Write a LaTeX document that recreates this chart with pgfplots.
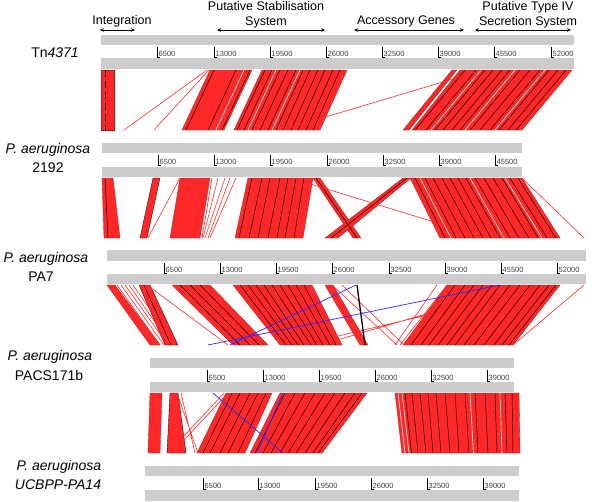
\documentclass[border=0pt]{standalone}
\usepackage{pgfplots}
\pgfplotsset{compat=1.18}
\usepackage{fontspec}
\setmainfont{Liberation Sans}
\usetikzlibrary{arrows.meta}
\definecolor{barg}{RGB}{204,204,204}
\definecolor{rd}{RGB}{255,40,40}
\definecolor{bl}{RGB}{40,40,255}
\pgfplotsset{
  blk/.style={fill=rd, draw=rd!65!black, line width=0.3pt},
  bar/.style={fill=barg, draw=none},
  bln/.style={black, line width=0.45pt, unbounded coords=jump},
  wln/.style={white, line width=0.6pt, unbounded coords=jump},
  rln/.style={rd, line width=0.6pt, unbounded coords=jump},
  tck/.style={black, line width=0.5pt, unbounded coords=jump},
}
\newcommand{\tl}[2]{\node[anchor=base west, inner sep=0pt, text=black!75, font=\fontsize{7.5}{8}\selectfont] at (#1+1.5,#2) {#1};}
\begin{document}
\begin{tikzpicture}
\begin{axis}[scale only axis, width=600pt, height=501pt,
  xmin=0, xmax=600, ymin=0, ymax=501, y dir=reverse,
  axis line style={draw=none}, xtick=\empty, ytick=\empty, clip=false]

% ---------------- gray genome bars ----------------
\addplot[bar] coordinates {(101,35)(574,35)(574,45)(101,45)} -- cycle;
\addplot[bar] coordinates {(101,58)(574,58)(574,69)(101,69)} -- cycle;
\addplot[bar] coordinates {(102,143)(522,143)(522,153)(102,153)} -- cycle;
\addplot[bar] coordinates {(102,167)(522,167)(522,177)(102,177)} -- cycle;
\addplot[bar] coordinates {(107,250)(586,250)(586,261)(107,261)} -- cycle;
\addplot[bar] coordinates {(107,274)(586,274)(586,284)(107,284)} -- cycle;
\addplot[bar] coordinates {(150,358)(514,358)(514,368)(150,368)} -- cycle;
\addplot[bar] coordinates {(150,382)(514,382)(514,392)(150,392)} -- cycle;
\addplot[bar] coordinates {(145,466)(519,466)(519,476)(145,476)} -- cycle;
\addplot[bar] coordinates {(145,490)(519,490)(519,501)(145,501)} -- cycle;

% ---------------- ticks ----------------
\addplot[tck] coordinates {(157,47)(157,57)(160,57)(0,nan)(214,47)(214,57)(217,57)(0,nan)(270,47)(270,57)(273,57)(0,nan)(326,47)(326,57)(329,57)(0,nan)(382,47)(382,57)(385,57)(0,nan)(438,47)(438,57)(441,57)(0,nan)(494,47)(494,57)(497,57)(0,nan)(551,47)(551,57)(554,57)};
\addplot[tck] coordinates {(158,155)(158,165)(161,165)(0,nan)(214,155)(214,165)(217,165)(0,nan)(270,155)(270,165)(273,165)(0,nan)(327,155)(327,165)(330,165)(0,nan)(383,155)(383,165)(386,165)(0,nan)(439,155)(439,165)(442,165)(0,nan)(495,155)(495,165)(498,165)};
\addplot[tck] coordinates {(164,263)(164,273)(167,273)(0,nan)(220,263)(220,273)(223,273)(0,nan)(276,263)(276,273)(279,273)(0,nan)(332,263)(332,273)(335,273)(0,nan)(389,263)(389,273)(392,273)(0,nan)(445,263)(445,273)(448,273)(0,nan)(501,263)(501,273)(504,273)(0,nan)(557,263)(557,273)(560,273)};
\addplot[tck] coordinates {(207,370)(207,381)(210,381)(0,nan)(263,370)(263,381)(266,381)(0,nan)(319,370)(319,381)(322,381)(0,nan)(375,370)(375,381)(378,381)(0,nan)(431,370)(431,381)(434,381)(0,nan)(487,370)(487,381)(490,381)};
\addplot[tck] coordinates {(203,478)(203,489)(206,489)(0,nan)(258,478)(258,489)(261,489)(0,nan)(315,478)(315,489)(318,489)(0,nan)(371,478)(371,489)(374,489)(0,nan)(427,478)(427,489)(430,489)(0,nan)(483,478)(483,489)(486,489)};

% tick labels
\node[anchor=base west, inner sep=0pt, text=black!75, font=\fontsize{7.5}{8}\selectfont] at (158.5,56.5) {6500};
\node[anchor=base west, inner sep=0pt, text=black!75, font=\fontsize{7.5}{8}\selectfont] at (215.5,56.5) {13000};
\node[anchor=base west, inner sep=0pt, text=black!75, font=\fontsize{7.5}{8}\selectfont] at (271.5,56.5) {19500};
\node[anchor=base west, inner sep=0pt, text=black!75, font=\fontsize{7.5}{8}\selectfont] at (327.5,56.5) {26000};
\node[anchor=base west, inner sep=0pt, text=black!75, font=\fontsize{7.5}{8}\selectfont] at (383.5,56.5) {32500};
\node[anchor=base west, inner sep=0pt, text=black!75, font=\fontsize{7.5}{8}\selectfont] at (439.5,56.5) {39000};
\node[anchor=base west, inner sep=0pt, text=black!75, font=\fontsize{7.5}{8}\selectfont] at (495.5,56.5) {45500};
\node[anchor=base west, inner sep=0pt, text=black!75, font=\fontsize{7.5}{8}\selectfont] at (552.5,56.5) {52000};

\node[anchor=base west, inner sep=0pt, text=black!75, font=\fontsize{7.5}{8}\selectfont] at (159.5,164.5) {6500};
\node[anchor=base west, inner sep=0pt, text=black!75, font=\fontsize{7.5}{8}\selectfont] at (215.5,164.5) {13000};
\node[anchor=base west, inner sep=0pt, text=black!75, font=\fontsize{7.5}{8}\selectfont] at (271.5,164.5) {19500};
\node[anchor=base west, inner sep=0pt, text=black!75, font=\fontsize{7.5}{8}\selectfont] at (328.5,164.5) {26000};
\node[anchor=base west, inner sep=0pt, text=black!75, font=\fontsize{7.5}{8}\selectfont] at (384.5,164.5) {32500};
\node[anchor=base west, inner sep=0pt, text=black!75, font=\fontsize{7.5}{8}\selectfont] at (440.5,164.5) {39000};
\node[anchor=base west, inner sep=0pt, text=black!75, font=\fontsize{7.5}{8}\selectfont] at (496.5,164.5) {45500};

\node[anchor=base west, inner sep=0pt, text=black!75, font=\fontsize{7.5}{8}\selectfont] at (165.5,272.5) {6500};
\node[anchor=base west, inner sep=0pt, text=black!75, font=\fontsize{7.5}{8}\selectfont] at (221.5,272.5) {13000};
\node[anchor=base west, inner sep=0pt, text=black!75, font=\fontsize{7.5}{8}\selectfont] at (277.5,272.5) {19500};
\node[anchor=base west, inner sep=0pt, text=black!75, font=\fontsize{7.5}{8}\selectfont] at (333.5,272.5) {26000};
\node[anchor=base west, inner sep=0pt, text=black!75, font=\fontsize{7.5}{8}\selectfont] at (390.5,272.5) {32500};
\node[anchor=base west, inner sep=0pt, text=black!75, font=\fontsize{7.5}{8}\selectfont] at (446.5,272.5) {39000};
\node[anchor=base west, inner sep=0pt, text=black!75, font=\fontsize{7.5}{8}\selectfont] at (502.5,272.5) {45500};
\node[anchor=base west, inner sep=0pt, text=black!75, font=\fontsize{7.5}{8}\selectfont] at (558.5,272.5) {52000};

\node[anchor=base west, inner sep=0pt, text=black!75, font=\fontsize{7.5}{8}\selectfont] at (208.5,380.5) {6500};
\node[anchor=base west, inner sep=0pt, text=black!75, font=\fontsize{7.5}{8}\selectfont] at (264.5,380.5) {13000};
\node[anchor=base west, inner sep=0pt, text=black!75, font=\fontsize{7.5}{8}\selectfont] at (320.5,380.5) {19500};
\node[anchor=base west, inner sep=0pt, text=black!75, font=\fontsize{7.5}{8}\selectfont] at (376.5,380.5) {26000};
\node[anchor=base west, inner sep=0pt, text=black!75, font=\fontsize{7.5}{8}\selectfont] at (432.5,380.5) {32500};
\node[anchor=base west, inner sep=0pt, text=black!75, font=\fontsize{7.5}{8}\selectfont] at (488.5,380.5) {39000};

\node[anchor=base west, inner sep=0pt, text=black!75, font=\fontsize{7.5}{8}\selectfont] at (204.5,488.5) {6500};
\node[anchor=base west, inner sep=0pt, text=black!75, font=\fontsize{7.5}{8}\selectfont] at (259.5,488.5) {13000};
\node[anchor=base west, inner sep=0pt, text=black!75, font=\fontsize{7.5}{8}\selectfont] at (316.5,488.5) {19500};
\node[anchor=base west, inner sep=0pt, text=black!75, font=\fontsize{7.5}{8}\selectfont] at (372.5,488.5) {26000};
\node[anchor=base west, inner sep=0pt, text=black!75, font=\fontsize{7.5}{8}\selectfont] at (428.5,488.5) {32500};
\node[anchor=base west, inner sep=0pt, text=black!75, font=\fontsize{7.5}{8}\selectfont] at (484.5,488.5) {39000};

% ---------------- region 1 (Tn4371 -> 2192) ----------------
\addplot[blk] coordinates {(101,70)(114,70)(114,130)(101,130)} -- cycle;
\addplot[blk] coordinates {(210,70)(252,70)(224,130)(182,130)} -- cycle;
\addplot[blk] coordinates {(262,70)(347,70)(320,130)(234,130)} -- cycle;
\addplot[blk] coordinates {(452,70)(457,70)(409,130)(403,130)} -- cycle;
\addplot[blk] coordinates {(460,70)(572,70)(522,130)(412,130)} -- cycle;
\addplot[black, line width=0.8pt, dash pattern=on 7pt off 4pt] coordinates {(105,70)(105,130)};
\addplot[bln] coordinates {(214,70)(186,130)(0,nan)(236,70)(208,130)(0,nan)(250,70)(222,130)(0,nan)(265,70)(237,130)(0,nan)(272,70)(244,130)(0,nan)(280,70)(252,130)(0,nan)(288,70)(260,130)(0,nan)(296,70)(268,130)(0,nan)(303,70)(276,130)(0,nan)(310,70)(283,130)(0,nan)(318,70)(291,130)(0,nan)(325,70)(298,130)(0,nan)(333,70)(306,130)(0,nan)(340,70)(313,130)};
\addplot[bln] coordinates {(465,70)(415,130)(0,nan)(476,70)(426,130)(0,nan)(485,70)(435,130)(0,nan)(493,70)(443,130)(0,nan)(502,70)(452,130)(0,nan)(510,70)(460,130)(0,nan)(520,70)(470,130)(0,nan)(530,70)(480,130)(0,nan)(540,70)(490,130)(0,nan)(549,70)(499,130)(0,nan)(558,70)(508,130)(0,nan)(566,70)(516,130)};
\addplot[wln] coordinates {(244,70)(216,130)(0,nan)(276,70)(248,130)(0,nan)(300,70)(272,130)(0,nan)(481,70)(431,130)(0,nan)(515,70)(465,130)(0,nan)(545,70)(495,130)};
\addplot[rln] coordinates {(207,70)(124,130)(0,nan)(209,70)(154,130)(0,nan)(483,70)(282,130)};

% ---------------- region 2 (2192 -> PA7) ----------------
\addplot[blk] coordinates {(102,178)(113,178)(120,238)(104,238)} -- cycle;
\addplot[blk, draw=black] coordinates {(153,178)(160,178)(147,238)(140,238)} -- cycle;
\addplot[blk] coordinates {(180,178)(210,178)(200,238)(170,238)} -- cycle;
\addplot[blk] coordinates {(248,178)(313,178)(303,238)(235,238)} -- cycle;
\addplot[blk] coordinates {(313,178)(320,178)(361,238)(353,238)} -- cycle;
\addplot[blk] coordinates {(403,178)(411,178)(338,238)(325,238)} -- cycle;
\addplot[blk] coordinates {(410,178)(522,178)(560,238)(440,238)} -- cycle;
\addplot[bln] coordinates {(105,178)(108,238)(0,nan)(252,178)(239,238)(0,nan)(262,178)(249,238)(0,nan)(270,178)(258,238)(0,nan)(280,178)(268,238)(0,nan)(288,178)(277,238)(0,nan)(296,178)(285,238)(0,nan)(304,178)(294,238)(0,nan)(316,178)(357,238)(0,nan)(407,178)(331,238)};
\addplot[bln] coordinates {(415,178)(445,238)(0,nan)(425,178)(456,238)(0,nan)(433,178)(465,238)(0,nan)(442,178)(474,238)(0,nan)(450,178)(483,238)(0,nan)(458,178)(491,238)(0,nan)(466,178)(500,238)(0,nan)(475,178)(510,238)(0,nan)(484,178)(519,238)(0,nan)(493,178)(529,238)(0,nan)(502,178)(538,238)(0,nan)(510,178)(547,238)(0,nan)(518,178)(556,238)};
\addplot[wln] coordinates {(420,178)(451,238)(0,nan)(470,178)(504,238)(0,nan)(505,178)(542,238)};
\addplot[rln] coordinates {(180,178)(148,238)(0,nan)(212,178)(202,238)(0,nan)(218,178)(203,238)(0,nan)(225,178)(205,238)(0,nan)(230,178)(208,238)(0,nan)(236,178)(210,238)(0,nan)(291,178)(486,238)(0,nan)(522,178)(584,238)};

% ---------------- region 3 (PA7 -> PACS171b) ----------------
\addplot[blk] coordinates {(107,285)(115,285)(160,345)(150,345)} -- cycle;
\addplot[blk, draw=black] coordinates {(139,285)(150,285)(178,345)(165,345)} -- cycle;
\addplot[blk] coordinates {(172,285)(210,285)(268,345)(233,345)} -- cycle;
\addplot[blk] coordinates {(233,285)(312,285)(342,345)(280,345)} -- cycle;
\addplot[blk] coordinates {(325,285)(333,285)(368,345)(360,345)} -- cycle;
\addplot[blk] coordinates {(447,285)(560,285)(513,345)(403,345)} -- cycle;
\addplot[rln] coordinates {(117,285)(160,345)(0,nan)(121,285)(164,345)(0,nan)(125,285)(168,345)(0,nan)(129,285)(171,345)(0,nan)(133,285)(175,345)(0,nan)(147,285)(228,345)(0,nan)(437,285)(395,345)(0,nan)(447,285)(400,345)(0,nan)(332,285)(397,345)(0,nan)(342,285)(404,345)(0,nan)(555,285)(300,345)(0,nan)(525,285)(320,345)(0,nan)(584,285)(513,345)};
\addplot[bln] coordinates {(144,285)(171,345)(0,nan)(180,285)(240,345)(0,nan)(190,285)(250,345)(0,nan)(200,285)(259,345)(0,nan)(240,285)(286,345)(0,nan)(248,285)(292,345)(0,nan)(256,285)(298,345)(0,nan)(264,285)(304,345)(0,nan)(272,285)(311,345)(0,nan)(280,285)(317,345)(0,nan)(288,285)(323,345)(0,nan)(296,285)(330,345)(0,nan)(304,285)(336,345)};
\addplot[bln] coordinates {(455,285)(411,345)(0,nan)(465,285)(421,345)(0,nan)(474,285)(429,345)(0,nan)(483,285)(438,345)(0,nan)(492,285)(447,345)(0,nan)(500,285)(455,345)(0,nan)(510,285)(464,345)(0,nan)(520,285)(474,345)(0,nan)(530,285)(484,345)(0,nan)(540,285)(494,345)(0,nan)(549,285)(502,345)(0,nan)(556,285)(509,345)};
\addplot[black, line width=1.3pt] coordinates {(357,285)(365,345)};
\addplot[bl, line width=0.7pt, unbounded coords=jump] coordinates {(356,285)(230,345)(0,nan)(500,285)(208,345)};

% ---------------- region 4 (PACS171b -> PA14) ----------------
\addplot[blk] coordinates {(150,393)(162,393)(160,453)(148,453)} -- cycle;
\addplot[blk, draw=black] coordinates {(170,393)(178,393)(186,453)(167,453)} -- cycle;
\addplot[blk] coordinates {(226,393)(272,393)(245,453)(197,453)} -- cycle;
\addplot[blk] coordinates {(280,393)(367,393)(322,453)(250,453)} -- cycle;
\addplot[blk] coordinates {(395,393)(519,393)(520,453)(402,453)} -- cycle;
\addplot[bln] coordinates {(232,393)(203,453)(0,nan)(240,393)(210,453)(0,nan)(250,393)(220,453)(0,nan)(258,393)(228,453)(0,nan)(266,393)(238,453)(0,nan)(285,393)(255,453)(0,nan)(295,393)(263,453)(0,nan)(305,393)(271,453)(0,nan)(315,393)(280,453)(0,nan)(325,393)(288,453)(0,nan)(335,393)(296,453)(0,nan)(345,393)(305,453)(0,nan)(355,393)(313,453)(0,nan)(362,393)(318,453)};
\addplot[bln] coordinates {(405,393)(411.5,453)(0,nan)(412,393)(418,453)(0,nan)(420,393)(426,453)(0,nan)(428,393)(433,453)(0,nan)(436,393)(441,453)(0,nan)(445,393)(450,453)(0,nan)(455,393)(459,453)(0,nan)(465,393)(469,453)(0,nan)(475,393)(478,453)(0,nan)(485,393)(488,453)(0,nan)(495,393)(497,453)(0,nan)(505,393)(507,453)(0,nan)(512,393)(513,453)};
\addplot[wln] coordinates {(398,393)(405,453)(0,nan)(402,393)(409,453)(0,nan)(470,393)(473.5,453)(0,nan)(500,393)(502,453)(0,nan)(275,393)(247,453)};
\addplot[rln] coordinates {(177,393)(198,453)(0,nan)(181,393)(195,453)(0,nan)(228,393)(172,453)(0,nan)(224,393)(168,453)};
\addplot[bl, line width=0.7pt, unbounded coords=jump] coordinates {(213,393)(283,453)(0,nan)(283,393)(257,453)};

% ---------------- section arrows ----------------
\addplot[black, line width=0.6pt, {Stealth[length=4pt,width=3.5pt]}-{Stealth[length=4pt,width=3.5pt]}] coordinates {(100,30)(135,30)};
\addplot[black, line width=0.6pt, {Stealth[length=4pt,width=3.5pt]}-{Stealth[length=4pt,width=3.5pt]}] coordinates {(217,30)(325,30)};
\addplot[black, line width=0.6pt, {Stealth[length=4pt,width=3.5pt]}-{Stealth[length=4pt,width=3.5pt]}] coordinates {(354,30)(464,30)};
\addplot[black, line width=0.6pt, {Stealth[length=4pt,width=3.5pt]}-{Stealth[length=4pt,width=3.5pt]}] coordinates {(475,30)(571,30)};

% ---------------- header texts ----------------
\node[font=\fontsize{12.5}{15.5}\selectfont, inner sep=0pt] at (122,21) {Integration};
\node[font=\fontsize{12.5}{15.5}\selectfont, align=center, inner sep=0pt] at (266,15) {Putative Stabilisation\\System};
\node[font=\fontsize{12.5}{15.5}\selectfont, inner sep=0pt] at (406,21) {Accessory Genes};
\node[font=\fontsize{12.5}{15.5}\selectfont, align=center, inner sep=0pt] at (528,15) {Putative Type IV\\Secretion System};

% ---------------- genome labels ----------------
\node[font=\fontsize{14}{16}\selectfont, inner sep=0pt] at (55,53) {Tn\textit{4371}};
\node[font=\fontsize{14}{16}\selectfont, inner sep=0pt] at (48,150) {\textit{P. aeruginosa}};
\node[font=\fontsize{14}{16}\selectfont, inner sep=0pt] at (48,168) {2192};
\node[font=\fontsize{14}{16}\selectfont, inner sep=0pt] at (46,259) {\textit{P. aeruginosa}};
\node[font=\fontsize{14}{16}\selectfont, inner sep=0pt] at (41,277) {PA7};
\node[font=\fontsize{14}{16}\selectfont, inner sep=0pt] at (50,357) {\textit{P. aeruginosa}};
\node[font=\fontsize{14}{16}\selectfont, inner sep=0pt] at (49,375) {PACS171b};
\node[font=\fontsize{14}{16}\selectfont, inner sep=0pt] at (59,467) {\textit{P. aeruginosa}};
\node[font=\fontsize{14}{16}\selectfont, inner sep=0pt] at (58,485) {\textit{UCBPP-PA14}};
\end{axis}
\end{tikzpicture}
\end{document}
